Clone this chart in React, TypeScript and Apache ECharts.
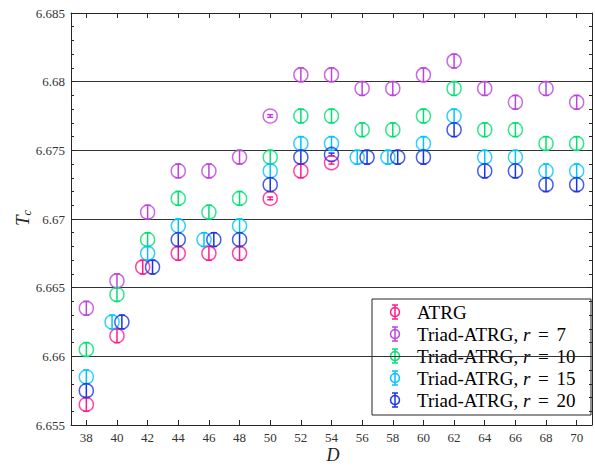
import React, { useEffect, useRef } from "react";
import * as echarts from "echarts";

const D = [38, 40, 42, 44, 46, 48, 50, 52, 54, 56, 58, 60, 62, 64, 66, 68, 70];
const yTicks = [6.655, 6.66, 6.665, 6.67, 6.675, 6.68, 6.685];

const atrg = [6.6565, 6.6615, 6.6665, 6.6675, 6.6675, 6.6675, 6.6715, 6.6735, 6.6741];
const r7 = [6.6635, 6.6655, 6.6705, 6.6735, 6.6735, 6.6745, 6.6775, 6.6805, 6.6805, 6.6795, 6.6795, 6.6805, 6.6815, 6.6795, 6.6785, 6.6795, 6.6785];
const r10 = [6.6605, 6.6645, 6.6685, 6.6715, 6.6705, 6.6715, 6.6745, 6.6775, 6.6775, 6.6765, 6.6765, 6.6775, 6.6795, 6.6765, 6.6765, 6.6755, 6.6755];
const r15 = [6.6585, 6.6625, 6.6675, 6.6695, 6.6685, 6.6695, 6.6735, 6.6755, 6.6755, 6.6745, 6.6745, 6.6755, 6.6775, 6.6745, 6.6745, 6.6735, 6.6735];
const r20 = [6.6575, 6.6625, 6.6665, 6.6685, 6.6685, 6.6685, 6.6725, 6.6745, 6.6747, 6.6745, 6.6745, 6.6745, 6.6765, 6.6735, 6.6735, 6.6725, 6.6725];

// error bars (half-width)
const atrgErr = [0.0005, 0.0005, 0.0005, 0.0005, 0.0005, 0.0005, 0.0001, 0.0005, 0.0001];
const r7Err = [0.0005, 0.0005, 0.0005, 0.0005, 0.0005, 0.0005, 0.0001, 0.0005, 0.0005, 0.0005, 0.0005, 0.0005, 0.0005, 0.0005, 0.0005, 0.0005, 0.0005];
const r10Err = D.map(() => 0.0005);
const r15Err = D.map(() => 0.0005);
const r20Err = [0.0005, 0.0005, 0.0005, 0.0005, 0.0005, 0.0005, 0.0005, 0.0005, 0.0001, 0.0005, 0.0005, 0.0005, 0.0005, 0.0005, 0.0005, 0.0005, 0.0005];

// horizontal dodge direction (to avoid overlap)
const atrgShift = [0, 0, -1, 0, 0, 0, 0, 0, 0];
const r15Shift = [0, -1, 0, 0, -1, 0, 0, 0, 0, -1, -1, 0, 0, 0, 0, 0, 0];
const r20Shift = [0, 1, 1, 0, 1, 0, 0, 0, 0, 1, 1, 0, 0, 0, 0, 0, 0];
const r0Shift = D.map(() => 0);
const dodge = 0.32;

const seriesDefs = [
  { name: "ATRG", rich: "{n|ATRG}", color: "#ff1a8c", vals: atrg, err: atrgErr, shift: atrgShift },
  { name: "Triad-ATRG, r = 7", rich: "{n|Triad-ATRG, }{i|r}{n| }{e|=}{n| 7}", color: "#bb44dd", vals: r7, err: r7Err, shift: r0Shift },
  { name: "Triad-ATRG, r = 10", rich: "{n|Triad-ATRG, }{i|r}{n| }{e|=}{n| 10}", color: "#00e070", vals: r10, err: r10Err, shift: r0Shift },
  { name: "Triad-ATRG, r = 15", rich: "{n|Triad-ATRG, }{i|r}{n| }{e|=}{n| 15}", color: "#00c4ff", vals: r15, err: r15Err, shift: r15Shift },
  { name: "Triad-ATRG, r = 20", rich: "{n|Triad-ATRG, }{i|r}{n| }{e|=}{n| 20}", color: "#1a33e6", vals: r20, err: r20Err, shift: r20Shift },
];

const FONT = "Liberation Serif";
const AX = "#262626";

export default function App() {
  const ref = useRef<HTMLDivElement>(null);
  useEffect(() => {
    if (!ref.current) return;
    const chart = echarts.init(ref.current, null, { renderer: "svg" });

    const series: any[] = [];
    seriesDefs.forEach((s) => {
      const data = s.vals.map((v, i) => [D[i] + s.shift[i] * dodge, v, s.err[i]]);
      series.push({
        type: "custom",
        name: s.name + " err",
        xAxisIndex: 0,
        yAxisIndex: 0,
        encode: { x: 0, y: 1 },
        data,
        renderItem: (params: any, api: any) => {
          const x = api.value(0);
          const y = api.value(1);
          const e = api.value(2);
          const top = api.coord([x, y + e]);
          const bot = api.coord([x, y - e]);
          const hw = 3;
          const st = { stroke: s.color, lineWidth: 1.5 };
          return {
            type: "group",
            children: [
              { type: "line", shape: { x1: top[0], y1: top[1], x2: bot[0], y2: bot[1] }, style: st },
              { type: "line", shape: { x1: top[0] - hw, y1: top[1], x2: top[0] + hw, y2: top[1] }, style: st },
              { type: "line", shape: { x1: bot[0] - hw, y1: bot[1], x2: bot[0] + hw, y2: bot[1] }, style: st },
            ],
          };
        },
      });
      series.push({
        type: "scatter",
        name: s.name,
        xAxisIndex: 0,
        yAxisIndex: 0,
        data: data.map((d) => [d[0], d[1]]),
        symbol: "circle",
        symbolSize: 14,
        itemStyle: { color: "rgba(0,0,0,0)", borderColor: s.color, borderWidth: 1.5 },
        emphasis: { disabled: true },
      });
    });

    const legendX = 372;
    const legendY = 299;
    const rowY0 = 312;
    const rowH = 22;
    const legendChildren: any[] = [
      {
        type: "rect",
        shape: { x: legendX, y: legendY, width: 219, height: 116 },
        style: { fill: "#fff", stroke: AX, lineWidth: 1 },
      },
    ];
    seriesDefs.forEach((s, i) => {
      const cy = rowY0 + i * rowH;
      const cx = 395;
      const st = { stroke: s.color, lineWidth: 1.5, fill: "none" };
      legendChildren.push(
        { type: "line", shape: { x1: cx, y1: cy - 7, x2: cx, y2: cy + 7 }, style: st },
        { type: "line", shape: { x1: cx - 3, y1: cy - 7, x2: cx + 3, y2: cy - 7 }, style: st },
        { type: "line", shape: { x1: cx - 3, y1: cy + 7, x2: cx + 3, y2: cy + 7 }, style: st },
        { type: "circle", shape: { cx, cy, r: 4.5 }, style: st },
        {
          type: "text",
          x: 417,
          y: cy,
          style: {
            text: s.rich,
            verticalAlign: "middle",
            align: "left",
            rich: {
              n: { fontFamily: FONT, fontSize: 19, fill: "#000" },
              i: { fontFamily: FONT, fontSize: 19, fontStyle: "italic", fill: "#000" },
              e: { fontFamily: FONT, fontSize: 19, fill: "#000", padding: [0, 3, 0, 3] },
            },
          },
        }
      );
    });

    const fmt = (v: number) => String(parseFloat(v.toFixed(3)));

    chart.setOption({
      animation: false,
      backgroundColor: "#fff",
      grid: { left: 71, top: 13, right: 3, bottom: 41, containLabel: false, outerBoundsMode: "none" },
      xAxis: [
        {
          type: "value",
          position: "bottom",
          min: 37,
          max: 71,
          axisLine: { show: true, onZero: false, lineStyle: { color: AX, width: 1 } },
          axisTick: { show: true, inside: true, length: 5, customValues: D, lineStyle: { color: AX } },
          axisLabel: { customValues: D, fontFamily: FONT, fontSize: 13, color: "#333", margin: 6 },
          splitLine: { show: false },
        },
        {
          type: "value",
          position: "top",
          min: 37,
          max: 71,
          axisLine: { show: true, onZero: false, lineStyle: { color: AX, width: 1 } },
          axisTick: { show: true, inside: true, length: 5, customValues: D, lineStyle: { color: AX } },
          axisLabel: { show: false },
          splitLine: { show: false },
        },
      ],
      yAxis: [
        {
          type: "value",
          position: "left",
          min: 6.655,
          max: 6.685,
          interval: 0.005,
          axisLine: { show: true, onZero: false, lineStyle: { color: AX, width: 1 } },
          axisTick: { show: true, inside: true, length: 5, lineStyle: { color: AX } },
          minorTick: { show: true, splitNumber: 5, length: 3, lineStyle: { color: AX } },
          axisLabel: { formatter: fmt, fontFamily: FONT, fontSize: 13, color: "#333", margin: 6 },
          splitLine: { show: true, lineStyle: { color: "#333", width: 1 } },
        },
        {
          type: "value",
          position: "right",
          min: 6.655,
          max: 6.685,
          interval: 0.005,
          axisLine: { show: true, onZero: false, lineStyle: { color: AX, width: 1 } },
          axisTick: { show: true, inside: true, length: 5, lineStyle: { color: AX } },
          minorTick: { show: true, splitNumber: 5, length: 3, lineStyle: { color: AX } },
          axisLabel: { show: false },
          splitLine: { show: false },
        },
      ],
      series,
      graphic: [
        {
          type: "text",
          x: 22,
          y: 218,
          rotation: Math.PI / 2,
          style: {
            text: "{t|T}{s|c}",
            align: "center",
            verticalAlign: "middle",
            rich: {
              t: { fontFamily: FONT, fontSize: 19, fontStyle: "italic", fill: "#222", lineHeight: 22 },
              s: { fontFamily: FONT, fontSize: 12, fontStyle: "italic", fill: "#222", verticalAlign: "bottom", lineHeight: 14, padding: [6, 0, 0, 0] },
            },
          },
          z: 10,
        },
        {
          type: "text",
          x: 333,
          y: 454.5,
          style: {
            text: "D",
            align: "center",
            verticalAlign: "middle",
            fontFamily: FONT,
            fontSize: 18,
            fontStyle: "italic",
            fill: "#222",
          },
          z: 10,
        },
        { type: "group", children: legendChildren, z: 20 },
      ],
    });
    return () => chart.dispose();
  }, []);
  return <div ref={ref} style={{ position: "fixed", left: 0, top: 0, width: 595, height: 466 }} />;
}
